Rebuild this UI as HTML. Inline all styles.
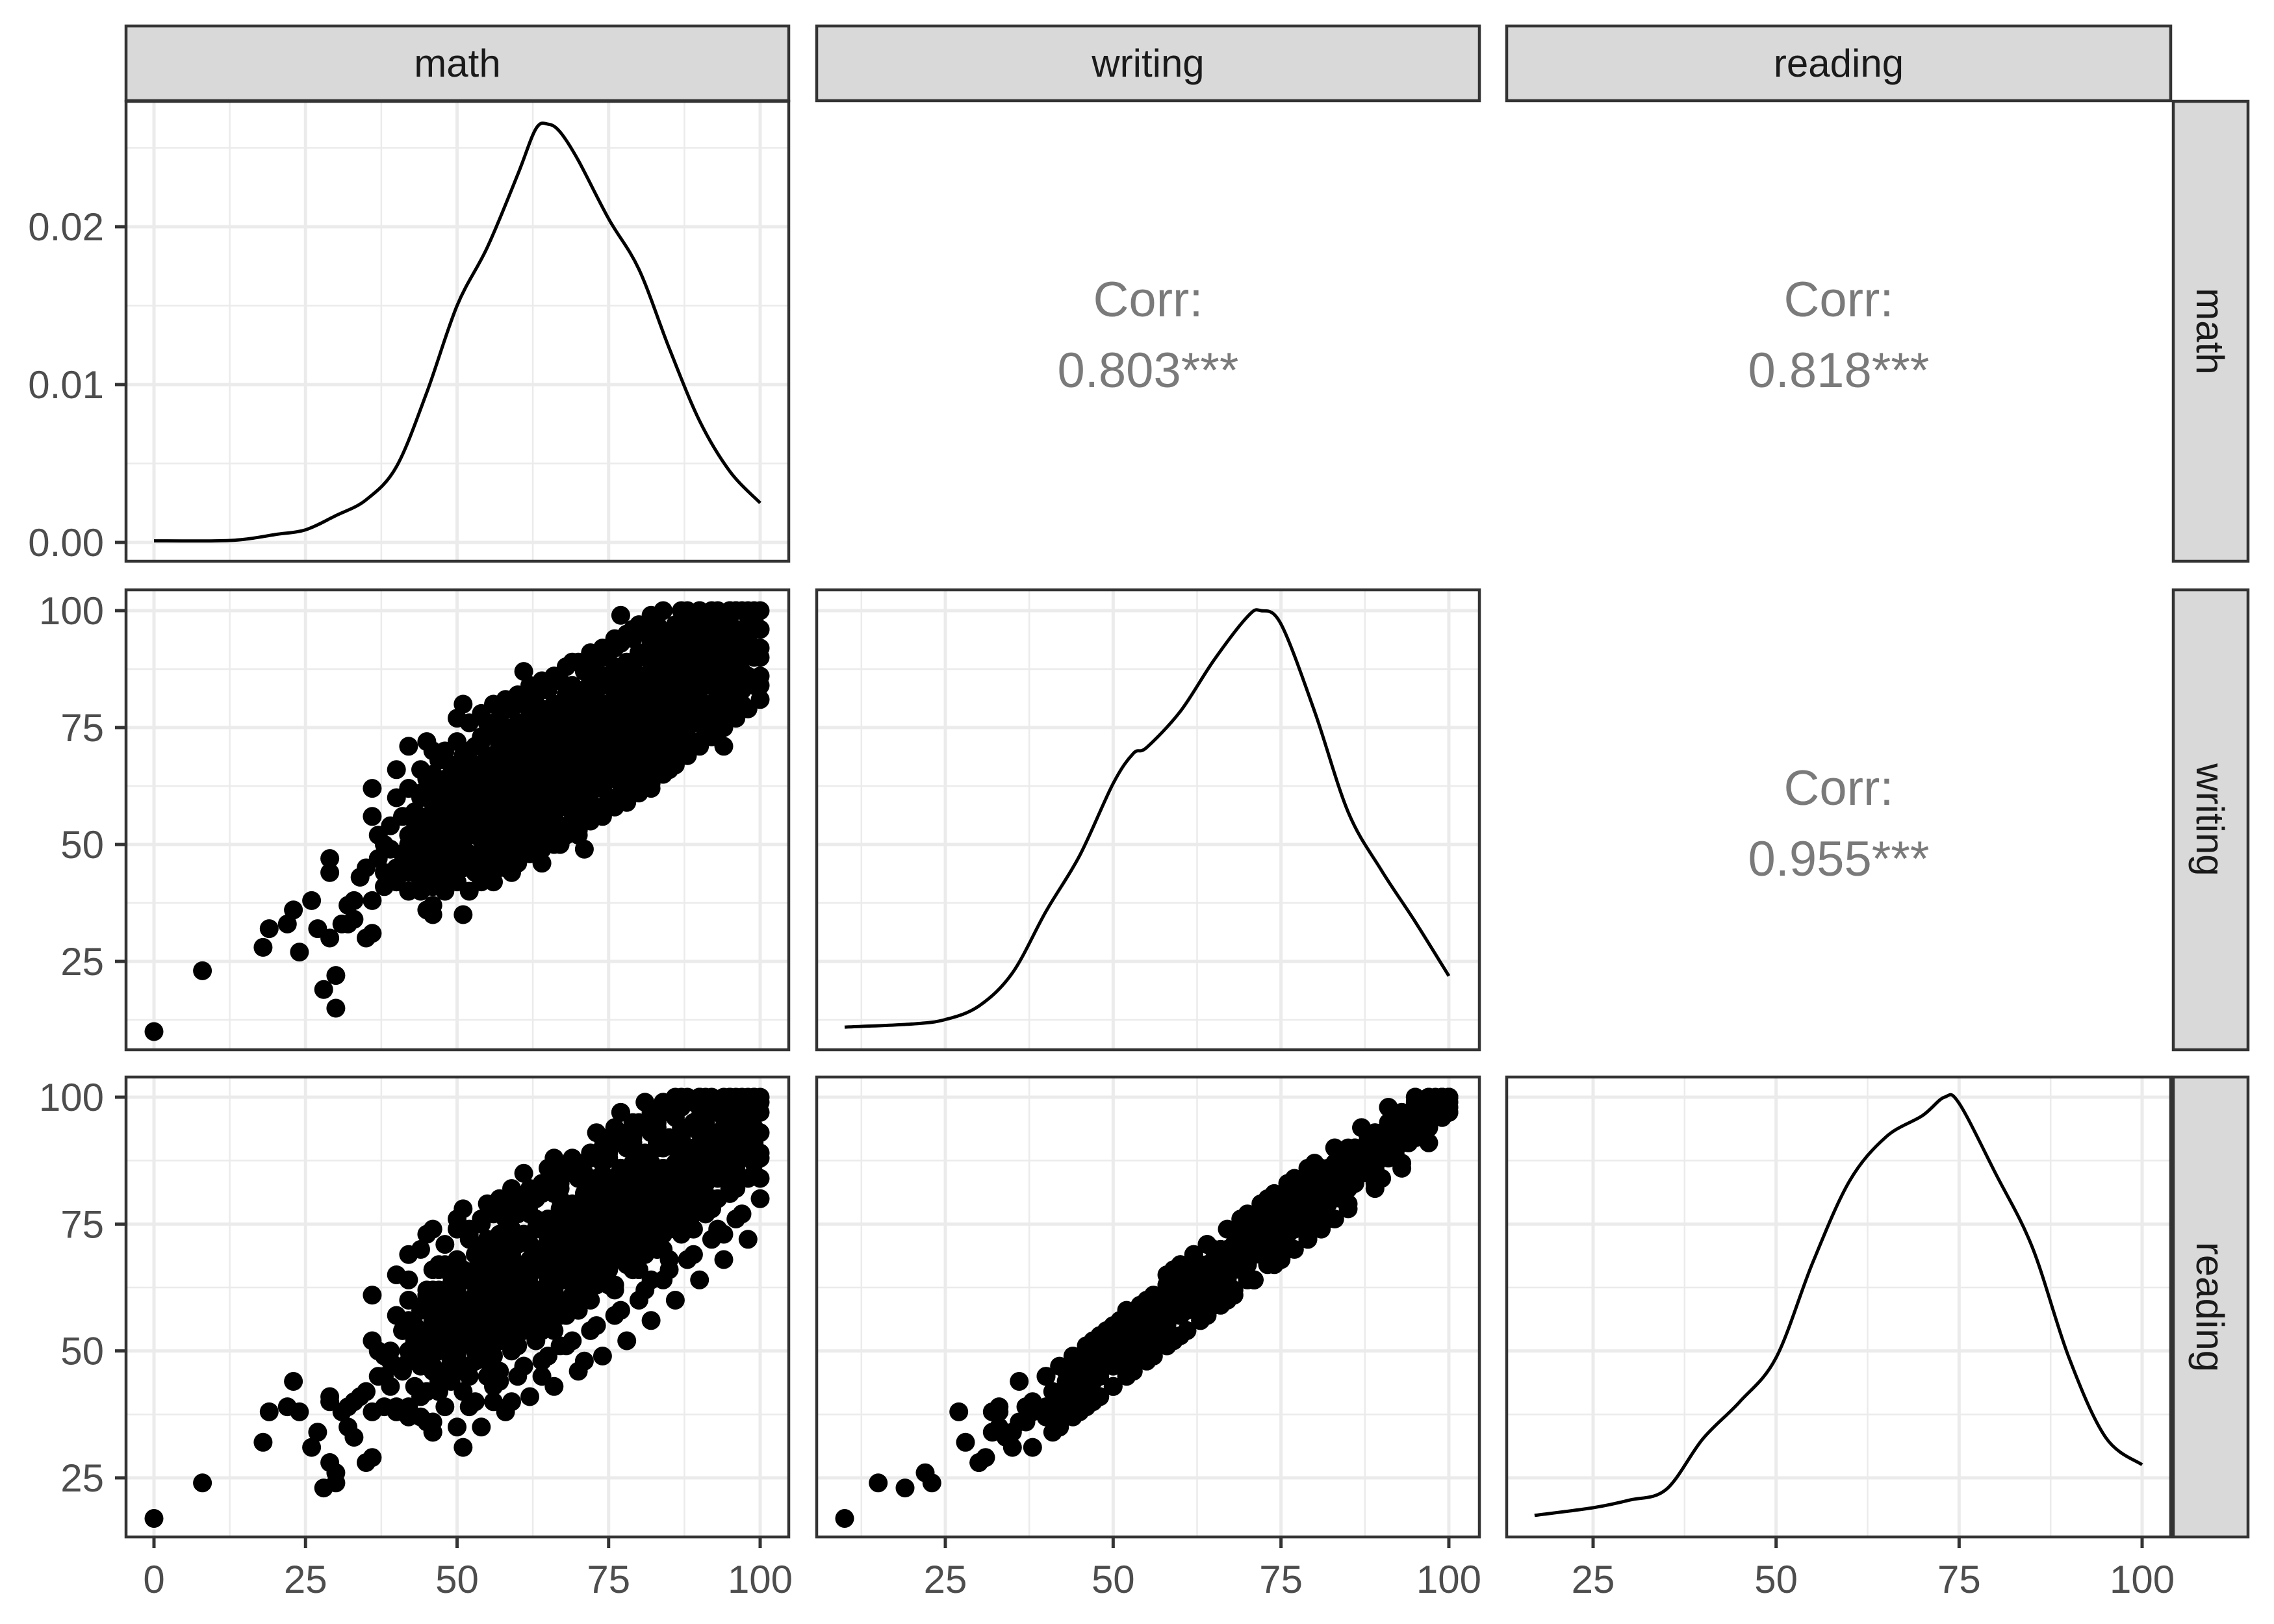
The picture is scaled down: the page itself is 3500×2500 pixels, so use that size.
<!DOCTYPE html>
<html><head><meta charset="utf-8"><title>Pairs plot</title>
<style>
html,body{margin:0;padding:0;background:#fff;}
svg{display:block;font-family:"Liberation Sans",Arial,sans-serif;}
</style></head>
<body>
<svg id="chart" width="3500" height="2500" viewBox="0 0 3500 2500" xmlns="http://www.w3.org/2000/svg">
<rect x="0" y="0" width="3500" height="2500" fill="#fff"/>
<g id="grid"></g>
<g id="marks"></g>
<g id="frames"></g>
<g id="labels"></g>
</svg>
<script>
// ---- data ----
const variables = ["math", "writing", "reading"];
const corrValues = ["0.803***", "0.818***", "0.955***"];
const scoreTicks = [0, 25, 50, 75, 100];
const densityTicks = [0, 0.01, 0.02];
const densityTickLabels = ["0.00", "0.01", "0.02"];

const mathDensX = [0,10,15,20,25,30,35,40,45,50,55,60,63,65,67,70,75,80,85,90,95,100];
const mathDensY = [0.0001,0.0001,0.0002,0.0005,0.0008,0.0017,0.0027,0.0048,0.0095,0.015,0.0187,0.0233,0.0262,0.0265,0.026,0.0242,0.0205,0.0173,0.0123,0.0077,0.0045,0.0025];
const writingDensX = [10,20,25,30,35,40,45,50,53,55,60,65,70,72,75,80,85,90,95,100];
const writingDensY = [0.0003,0.0005,0.0008,0.0017,0.0039,0.008,0.0117,0.0165,0.0185,0.0189,0.0213,0.0247,0.0276,0.028,0.0271,0.0213,0.0146,0.0107,0.0073,0.0037];
const readingDensX = [17,25,30,35,40,45,50,55,60,65,70,73,75,80,85,90,95,100];
const readingDensY = [0.0002,0.0007,0.0012,0.0019,0.0052,0.0076,0.0105,0.0167,0.022,0.0249,0.0263,0.0275,0.0271,0.0225,0.0177,0.0105,0.0053,0.0035];

// students: [math, writing, reading]
const students = [
[0,10,17],[8,23,24],[18,28,32],[19,32,38],[22,33,39],[23,36,44],[24,27,38],[26,38,31],[27,32,34],[28,19,23],[29,30,28],[30,22,26],[30,15,24],[29,44,41],[29,47,40],[31,33,38],[32,33,35],[35,30,28],[36,31,29],[36,38,38],
[33,34,33],[32,37,39],[33,38,40],[34,43,41],[35,45,42],[36,56,52],[36,62,61],[37,47,45],[38,50,49],[39,44,43],[39,54,50],[40,66,65],[40,42,38],[41,48,46],[42,71,64],[42,52,50],[43,46,43],[43,57,55],[44,40,37],[44,61,58],
[45,72,73],[45,50,48],[46,37,36],[46,55,56],[46,64,62],[47,44,42],[47,60,57],[47,68,66],[48,49,50],[48,53,51],[48,57,60],[49,62,63],[49,46,44],[51,80,78],[50,52,50],[50,58,55],[50,66,68],[51,35,31],
[52,48,47],[52,55,52],[52,62,60],[52,70,72],[53,58,61],[53,44,40],[53,66,63],[54,51,49],[54,73,70],[54,60,58],[55,47,45],[55,56,57],[55,64,66],[55,76,79],[56,52,53],[56,69,67],[56,42,40],[57,60,62],[57,72,70],[57,48,46],
[58,55,52],[58,64,61],[58,79,76],[59,50,50],[59,58,60],[59,68,69],[59,44,40],[60,62,59],[60,74,77],[60,53,55],[61,66,67],[61,57,54],[61,87,85],[61,48,47],[62,70,68],[62,60,63],[62,80,77],[63,52,52],[63,64,62],[63,75,76],
[64,56,58],[64,68,70],[64,84,81],[64,46,45],[65,60,60],[65,72,73],[65,78,75],[66,64,65],[66,55,54],[66,86,88],[67,68,67],[67,74,77],[67,50,51],[68,62,64],[68,80,78],[68,70,71],[69,57,60],[69,76,73],[69,89,85],[70,66,68],
[70,72,74],[70,83,84],[70,52,58],[71,60,62],[71,78,80],[71,49,48],[72,69,70],[72,86,88],[72,64,65],[73,74,73],[73,58,63],[73,81,84],[74,70,72],[74,90,92],[74,62,64],[75,76,78],[75,66,66],[75,84,80],[76,72,74],[76,92,94],
[76,60,62],[77,80,82],[77,68,70],[77,99,97],[78,74,76],[78,86,90],[78,64,67],[79,78,77],[79,96,95],[79,70,73],[80,82,84],[80,74,72],[80,90,88],[81,66,69],[81,86,87],[81,78,80],[82,72,75],[82,94,93],[82,62,64],[83,82,81],
[83,76,79],[83,88,91],[84,70,73],[84,92,90],[84,80,82],[85,86,86],[85,66,68],[85,76,77],[86,84,87],[86,94,96],[86,72,74],[87,80,79],[87,90,92],[87,100,100],[88,76,80],[88,86,84],[88,96,94],[89,82,85],[89,72,74],[89,92,90],
[90,88,90],[90,78,82],[90,100,98],[91,84,83],[91,94,95],[92,80,80],[92,90,89],[92,100,100],[93,86,90],[93,74,73],[94,96,94],[94,90,88],[95,100,100],[95,82,83],[96,92,94],[96,88,86],[97,100,100],[97,95,95],[98,86,84],[98,100,98],
[99,90,92],[99,100,100],[100,100,100],[100,96,97],[100,92,93],[100,86,88],[100,81,80],[94,71,73],[92,75,78],[87,74,76],
[56,62,63],[57,66,68],[58,59,57],[59,63,65],[60,67,64],[60,58,61],[61,71,72],[61,62,61],[62,65,66],[62,55,57],[63,69,70],[63,58,57],[64,73,75],[64,62,66],[65,66,68],[65,54,56],[66,70,69],[66,60,62],[67,77,80],[67,62,60],
[68,74,75],[68,66,67],[69,70,68],[69,63,67],[70,76,79],[70,60,61],[71,73,71],[71,67,70],[72,78,76],[72,74,78],[73,70,68],[73,66,70],[74,80,83],[74,76,75],[75,70,74],[75,80,84],[76,82,80],[76,78,77],[77,76,79],[77,86,86],
[78,82,80],[78,70,71],[79,84,86],[79,74,76],[80,78,80],[80,86,88],[81,82,84],[81,72,72],[82,84,83],[82,78,81],[83,86,84],[83,72,76],[84,88,86],[84,76,78],[85,82,84],[85,92,92],[86,88,90],[86,78,78],[87,84,86],[87,76,74],
[88,90,89],[88,82,82],[89,88,88],[89,78,80],[90,84,85],[90,94,96],[91,90,90],[91,80,78],[92,86,86],[93,92,93],[93,82,84],[94,86,85],[95,92,90],[95,88,91],[96,96,98],[97,90,88],[98,94,96],[99,96,94],
[44,50,52],[45,56,53],[46,48,47],[47,52,54],[48,62,60],[49,54,55],[50,47,46],[50,62,62],[51,56,58],[51,50,52],[52,66,64],[53,53,55],[53,62,64],[54,56,54],[54,66,69],[55,60,61],[55,52,51],[56,57,59],[56,65,67],[57,54,52],
[57,63,65],[58,68,66],[58,51,52],[59,72,74],[60,56,58],[40,45,47],[41,56,54],[42,46,48],[43,52,52],[44,45,42],[45,60,62],[46,52,50],[47,57,58],[48,44,46],[38,44,45],[39,49,48],[37,52,50],[40,60,57],[42,62,60],
[88,100,99],[90,99,100],[93,100,97],[96,100,99],[38,41,39],[40,42,39],[42,40,39],[45,36,36],[46,35,34],
[42,44,37],[42,50,55],[42,56,56],[42,62,69],[44,42,47],[44,48,41],[44,54,54],[44,60,53],[44,66,70],
[46,41,34],[46,47,52],[46,53,53],[46,59,66],[46,65,59],[46,70,74],[48,40,45],[48,46,39],[48,52,52],[48,58,51],[48,64,71],[48,70,67],
[50,42,35],[50,48,53],[50,54,54],[50,60,67],[50,66,60],[50,72,76],[50,77,74],[52,40,45],[52,46,39],[52,52,52],[52,58,65],[52,64,58],[52,70,74],[52,76,73],
[54,42,35],[54,48,53],[54,54,54],[54,60,67],[54,66,60],[54,72,76],[54,78,75],[56,44,49],[56,50,43],[56,56,56],[56,62,69],[56,68,62],[56,74,78],[56,80,77],
[58,45,38],[58,51,56],[58,57,57],[58,63,56],[58,69,76],[58,75,71],[58,81,78],[60,46,51],[60,52,45],[60,58,58],[60,64,71],[60,70,64],[60,76,80],[60,82,79],
[62,48,41],[62,54,59],[62,60,60],[62,66,59],[62,72,79],[62,78,82],[62,84,81],[64,49,54],[64,55,48],[64,61,61],[64,67,74],[64,73,67],[64,79,83],[64,85,82],
[66,50,43],[66,56,61],[66,62,62],[66,68,61],[66,74,81],[66,80,84],[66,86,83],[68,52,57],[68,58,51],[68,64,64],[68,70,77],[68,76,70],[68,82,86],[68,88,85],
[70,53,46],[70,59,64],[70,65,65],[70,71,64],[70,77,84],[70,83,87],[70,89,86],[72,55,60],[72,61,54],[72,67,67],[72,73,80],[72,79,73],[72,85,89],[72,91,88],
[74,56,49],[74,62,67],[74,68,68],[74,74,67],[74,80,87],[74,86,90],[74,92,89],[76,58,63],[76,64,57],[76,70,70],[76,76,83],[76,82,76],[76,88,92],[76,94,91],
[78,59,52],[78,65,70],[78,71,71],[78,77,70],[78,83,90],[78,89,93],[78,95,92],[80,61,66],[80,67,60],[80,73,73],[80,79,86],[80,85,79],[80,91,95],[80,97,94],
[82,63,56],[82,69,74],[82,75,75],[82,81,74],[82,87,94],[82,93,97],[82,99,96],[84,65,70],[84,71,64],[84,77,77],[84,83,90],[84,89,83],[84,95,99],[84,100,97],
[86,67,60],[86,73,78],[86,79,79],[86,85,78],[86,91,98],[86,97,100],[88,69,74],[88,75,68],[88,81,81],[88,87,94],[88,93,87],[88,99,100],
[90,71,64],[90,77,82],[90,83,83],[90,89,82],[90,95,100],[90,100,100],[92,73,78],[92,79,72],[92,85,85],[92,91,98],[92,97,91],
[94,75,68],[94,81,86],[94,87,87],[94,93,86],[94,99,100],[96,77,82],[96,83,76],[96,89,89],[96,95,100],[96,100,97],
[98,79,72],[98,85,90],[98,91,91],[98,97,100],[100,84,89],[100,90,84],[100,96,99],
[43,47,50],[43,53,49],[45,44,47],[45,52,49],[45,64,61],[47,48,45],[47,56,59],[47,63,67],[49,43,46],[49,51,48],[49,58,61],[49,67,65],
[51,45,42],[51,53,56],[51,61,64],[51,69,66],[53,47,50],[53,55,52],[53,63,66],[53,71,69],[55,45,48],[55,50,48],[55,58,61],[55,68,71],[55,74,72],
[57,47,44],[57,56,58],[57,65,62],[57,70,73],[57,77,80],[59,48,51],[59,54,51],[59,61,64],[59,66,63],[59,74,70],[59,79,82],
[61,50,47],[61,55,58],[61,64,67],[61,69,66],[61,75,79],[61,80,80],[63,51,54],[63,57,54],[63,65,68],[63,72,70],[63,77,81],[63,82,80],
[65,52,49],[65,58,61],[65,64,63],[65,70,73],[65,75,72],[65,83,86],[67,54,57],[67,60,57],[67,66,69],[67,71,69],[67,80,82],[67,85,83],
[69,55,52],[69,61,64],[69,67,66],[69,73,76],[69,79,77],[69,84,88],[71,57,60],[71,63,60],[71,69,72],[71,75,73],[71,81,84],[71,87,85],
[73,58,55],[73,64,67],[73,72,71],[73,77,80],[73,83,81],[73,89,93],[75,60,63],[75,66,63],[75,73,76],[75,79,77],[75,85,88],[75,91,89],
[77,61,58],[77,67,70],[77,74,73],[77,81,84],[77,87,85],[77,93,97],[79,63,66],[79,69,66],[79,76,79],[79,82,80],[79,88,91],[79,94,92],
[81,65,62],[81,70,73],[81,77,76],[81,84,87],[81,90,88],[81,96,99],[83,67,70],[83,73,70],[83,79,82],[83,85,83],[83,91,94],[83,97,95],
[85,69,66],[85,74,77],[85,80,79],[85,88,91],[85,94,92],[87,70,73],[87,78,75],[87,83,86],[87,89,87],[87,95,98],
[89,72,69],[89,76,79],[89,85,84],[89,91,94],[89,97,95],[91,74,77],[91,80,77],[91,87,90],[91,93,91],[91,99,100],
[93,77,74],[93,83,86],[93,89,88],[93,95,98],[95,78,81],[95,85,82],[95,90,93],[95,97,95],[97,80,77],[97,87,90],[97,93,92],[99,84,87],[99,92,90],[99,98,100],
[45,41,42],[45,49,48],[45,53,54],[45,61,60],[47,43,44],[47,51,50],[47,55,56],[47,63,62],[49,44,45],[49,52,51],[49,56,57],[49,64,63],
[51,46,47],[51,54,53],[51,58,59],[51,66,65],[53,47,48],[53,55,54],[53,59,60],[53,67,66],[55,49,50],[55,57,56],[55,61,62],[55,69,68],
[57,51,52],[57,59,58],[57,63,64],[57,71,70],[59,52,53],[59,60,59],[59,64,65],[59,72,71],[61,54,55],[61,62,61],[61,66,67],[61,74,73],
[63,55,56],[63,63,62],[63,67,68],[63,75,74],[65,57,58],[65,65,64],[65,69,70],[65,77,76],[67,59,60],[67,67,66],[67,71,72],[67,79,78],
[69,60,61],[69,68,67],[69,72,73],[69,80,79],[71,62,63],[71,70,69],[71,74,75],[71,82,81],[73,63,64],[73,71,70],[73,75,76],[73,83,82],
[75,65,66],[75,73,72],[75,77,78],[75,85,84],[77,67,68],[77,75,74],[77,79,80],[77,87,86],[79,68,69],[79,76,75],[79,80,81],[79,88,87],
[81,70,71],[81,78,77],[81,82,83],[81,90,89],[83,71,72],[83,79,78],[83,83,84],[83,91,90],[85,73,74],[85,81,80],[85,85,86],[85,93,92],
[87,75,76],[87,83,82],[87,87,88],[87,95,94],[89,76,77],[89,84,83],[89,88,89],[89,96,95],[91,78,79],[91,86,85],[91,90,91],[91,98,97],
[93,79,80],[93,87,86],[93,91,92],[93,99,98],[95,81,82],[95,89,88],[95,93,94],[95,100,100],[97,83,84],[97,91,90],[97,95,96],[99,84,85],[99,92,91],[99,96,97],
[46,47,46],[46,51,52],[46,59,58],[50,48,49],[50,56,55],[50,60,61],[54,53,52],[54,57,58],[54,65,64],[58,54,55],[58,62,61],[58,66,67],
[62,60,59],[62,64,65],[62,72,71],[66,61,62],[66,69,68],[66,73,74],[70,66,65],[70,70,71],[70,78,77],[74,67,68],[74,75,74],[74,79,80],
[78,72,71],[78,76,77],[78,84,83],[82,74,75],[82,82,81],[82,86,87],[86,79,78],[86,83,84],[86,91,90],[90,80,81],[90,88,87],[90,92,93],[94,85,84],[94,89,90],[94,97,96]
];

// ---- layout ----
const NS = "http://www.w3.org/2000/svg";
const colX = [[194,1214],[1257,2277],[2319,3341]];
const rowY = [[156,864],[908,1616],[1658,2366]];
const xScales = [v => 237 + v*9.33, v => 1455 + (v-25)*10.333, v => 2452 + (v-25)*11.267];
const yScales = [v => 835 - v*24300, v => 940 + (100-v)*7.2, v => 1689 + (100-v)*7.813];
const dens = [[mathDensX, mathDensY],[writingDensX, writingDensY],[readingDensX, readingDensY]];

function mk(tag, attrs, parent){ const e=document.createElementNS(NS,tag); for(const k in attrs) e.setAttribute(k,attrs[k]); parent.appendChild(e); return e; }
const G = document.getElementById('grid'), M = document.getElementById('marks'), F = document.getElementById('frames'), L = document.getElementById('labels');

function smoothPath(pts){
  let d = "M"+pts[0][0].toFixed(1)+","+pts[0][1].toFixed(1);
  for(let i=0;i<pts.length-1;i++){
    const p0=pts[Math.max(0,i-1)], p1=pts[i], p2=pts[i+1], p3=pts[Math.min(pts.length-1,i+2)];
    const c1=[p1[0]+(p2[0]-p0[0])/6, p1[1]+(p2[1]-p0[1])/6];
    const c2=[p2[0]-(p3[0]-p1[0])/6, p2[1]-(p3[1]-p1[1])/6];
    d += " C"+c1[0].toFixed(1)+","+c1[1].toFixed(1)+" "+c2[0].toFixed(1)+","+c2[1].toFixed(1)+" "+p2[0].toFixed(1)+","+p2[1].toFixed(1);
  }
  return d;
}

const visible = (i,j) => i >= j; // row i, col j

for(let i=0;i<3;i++){
  for(let j=0;j<3;j++){
    if(!visible(i,j)) continue;
    const [x0,x1]=colX[j], [y0,y1]=rowY[i];
    const gp = mk('g',{},G);
    
    
    const xs = xScales[j];
    for(let t=0;t<=100;t+=12.5){
      const px = xs(t); if(px<x0||px>x1) continue;
      const major = (t%25===0);
      mk('line',{x1:px,x2:px,y1:y0,y2:y1,stroke:'#ebebeb','stroke-width':major?5:2.5},gp);
    }
    if(i===0){
      for(let t=0;t<=0.025;t+=0.005){
        const py=yScales[0](t); if(py<y0||py>y1) continue;
        const major = Math.abs((t*100)%1)<1e-6 || Math.abs((t*100)%1-1)<1e-6;
        mk('line',{x1:x0,x2:x1,y1:py,y2:py,stroke:'#ebebeb','stroke-width':major?5:2.5},gp);
      }
    } else {
      for(let t=0;t<=100;t+=12.5){
        const py=yScales[i](t); if(py<y0||py>y1) continue;
        mk('line',{x1:x0,x2:x1,y1:py,y2:py,stroke:'#ebebeb','stroke-width':(t%25===0)?5:2.5},gp);
      }
    }
    if(i===j){
      const [dx,dyv]=dens[j];
      const maxD = Math.max(...dyv);
      let pts;
      if(i===0){ pts = dx.map((v,k)=>[xs(v), yScales[0](dyv[k])]); }
      else {
        const lo = (i===1)?10:17;
        pts = dx.map((v,k)=>[xs(v), yScales[i](lo + (100-lo)*dyv[k]/maxD)]);
      }
      const p = mk('path',{d:smoothPath(pts),fill:'none',stroke:'#000','stroke-width':5},M);
      
      
    } else {
      const gs = mk('g',{fill:'#000'},M);
      
      
      for(const s of students){
        const c = mk('circle',{cx:xs(s[j]).toFixed(1),cy:yScales[i](s[i]).toFixed(1),r:14.5},gs);
        
        
      }
    }
    const fr = mk('rect',{x:x0,y:y0,width:x1-x0,height:y1-y0,fill:'none',stroke:'#333','stroke-width':4.5},F);
    
    
  }
}

const corrPos = [[0,1,0],[0,2,1],[1,2,2]];
for(const [i,j,k] of corrPos){
  const cx=(colX[j][0]+colX[j][1])/2, cy=(rowY[i][0]+rowY[i][1])/2;
  const t1 = mk('text',{x:cx,y:cy-50+27,'text-anchor':'middle','font-size':76,fill:'#7a7a7a'},L);
  t1.textContent='Corr:';
  
  
  const t2 = mk('text',{x:cx,y:cy+59+27,'text-anchor':'middle','font-size':76,fill:'#7a7a7a'},L);
  t2.textContent=corrValues[k];
  
  
}

for(let j=0;j<3;j++){
  const [x0,x1]=colX[j];
  const r = mk('rect',{x:x0,y:40,width:x1-x0,height:115,fill:'#d9d9d9',stroke:'#333','stroke-width':4.5},F);
  
  
  const t = mk('text',{x:(x0+x1)/2,y:118,'text-anchor':'middle','font-size':60,fill:'#1a1a1a'},L);
  t.textContent=variables[j];
  
  
}
for(let i=0;i<3;i++){
  const [y0,y1]=rowY[i];
  const r = mk('rect',{x:3345,y:y0,width:115,height:y1-y0,fill:'#d9d9d9',stroke:'#333','stroke-width':4.5},F);
  
  
  const cy=(y0+y1)/2;
  const t = mk('text',{x:3402,y:cy,'text-anchor':'middle','font-size':60,fill:'#1a1a1a',transform:'rotate(90 3402 '+cy+') translate(0 21)'},L);
  t.textContent=variables[i];
  
  
}

for(let i=0;i<3;i++){
  const ticks = i===0 ? densityTicks : scoreTicks;
  ticks.forEach((t,k)=>{
    const py=yScales[i](t);
    if(py<rowY[i][0]||py>rowY[i][1]) return;
    const tk = mk('line',{x1:177,x2:194,y1:py,y2:py,stroke:'#333','stroke-width':5},F);
    
    
    const tx = mk('text',{x:160,y:py+21,'text-anchor':'end','font-size':60,fill:'#4d4d4d'},L);
    tx.textContent = i===0 ? densityTickLabels[k] : String(t);
    
    
  });
}
for(let j=0;j<3;j++){
  scoreTicks.forEach(t=>{
    const px=xScales[j](t);
    if(px<colX[j][0]||px>colX[j][1]) return;
    const tk = mk('line',{x1:px,x2:px,y1:2366,y2:2383,stroke:'#333','stroke-width':5},F);
    
    
    const tx = mk('text',{x:px,y:2452,'text-anchor':'middle','font-size':60,fill:'#4d4d4d'},L);
    tx.textContent = String(t);
    
    
  });
}
</script>
</body></html>
